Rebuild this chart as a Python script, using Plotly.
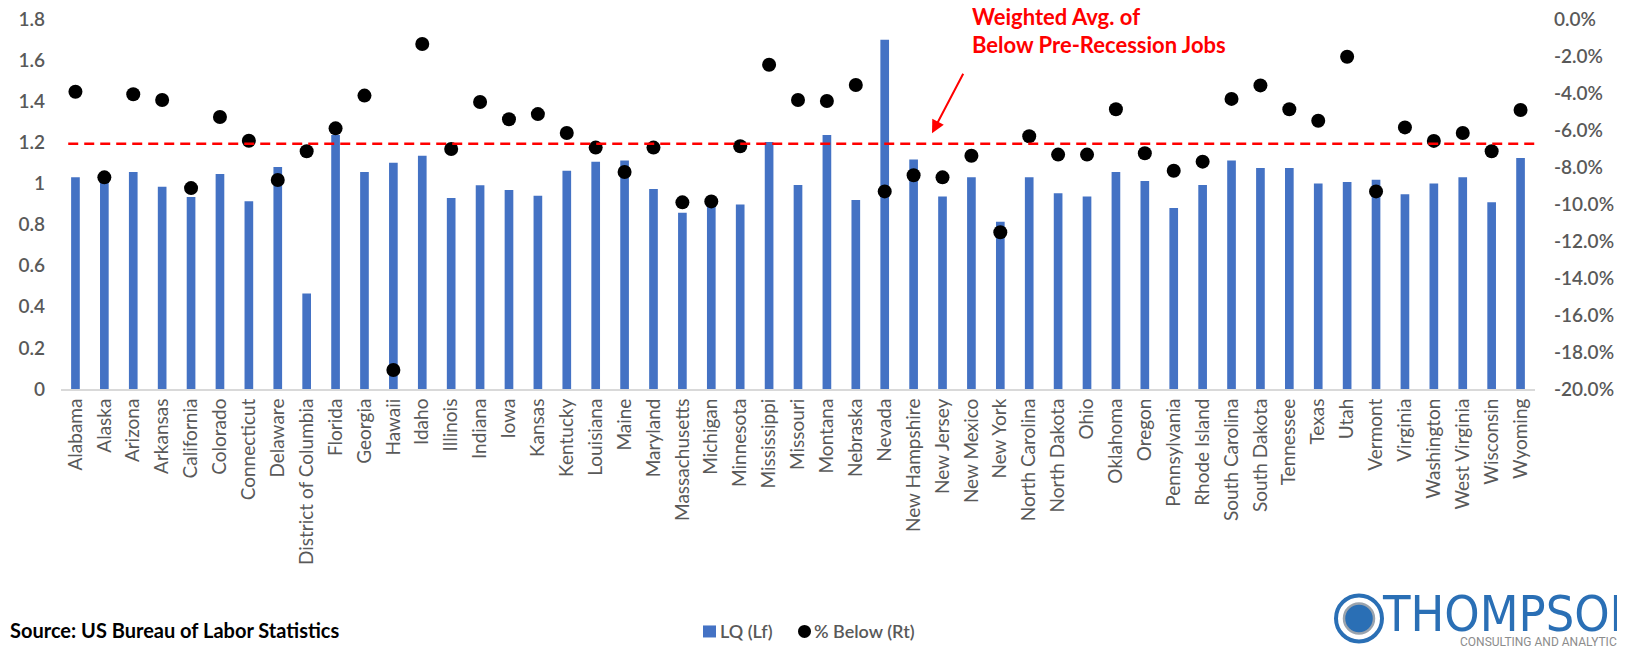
import plotly.graph_objects as go

states = ["Alabama", "Alaska", "Arizona", "Arkansas", "California", "Colorado", "Connecticut",
          "Delaware", "District of Columbia", "Florida", "Georgia", "Hawaii", "Idaho", "Illinois",
          "Indiana", "Iowa", "Kansas", "Kentucky", "Louisiana", "Maine", "Maryland", "Massachusetts",
          "Michigan", "Minnesota", "Mississippi", "Missouri", "Montana", "Nebraska", "Nevada",
          "New Hampshire", "New Jersey", "New Mexico", "New York", "North Carolina", "North Dakota",
          "Ohio", "Oklahoma", "Oregon", "Pennsylvania", "Rhode Island", "South Carolina",
          "South Dakota", "Tennessee", "Texas", "Utah", "Vermont", "Virginia", "Washington",
          "West Virginia", "Wisconsin", "Wyoming"]

lq = [1.03, 1.02, 1.056, 0.984, 0.934, 1.046, 0.913, 1.08, 0.464, 1.236, 1.056, 1.101, 1.135, 0.929,
      0.991, 0.968, 0.94, 1.062, 1.106, 1.112, 0.973, 0.858, 0.91, 0.897, 1.202, 0.992, 1.236,
      0.919, 1.699, 1.117, 0.936, 1.03, 0.814, 1.03, 0.952, 0.936, 1.056, 1.012, 0.88, 0.992,
      1.112, 1.075, 1.075, 1.0, 1.007, 1.018, 0.947, 1.0, 1.03, 0.908, 1.124]

pct_below = [-3.93, -8.56, -4.07, -4.38, -9.14, -5.30, -6.58, -8.70, -7.15, -5.91, -4.14, -18.97,
             -1.35, -7.03, -4.49, -5.42, -5.14, -6.16, -6.95, -8.27, -6.95, -9.91, -9.86, -6.88,
             -2.47, -4.38, -4.43, -3.57, -9.32, -8.45, -8.56, -7.39, -11.53, -6.34, -7.33, -7.33,
             -4.88, -7.26, -8.20, -7.71, -4.32, -3.59, -4.88, -5.50, -2.04, -9.32, -5.86, -6.59,
             -6.16, -7.15, -4.92]

weighted_avg = -6.74  # % below pre-recession jobs (right axis)

left_ticks = [0, 0.2, 0.4, 0.6, 0.8, 1.0, 1.2, 1.4, 1.6, 1.8]
left_labels = ["0", "0.2", "0.4", "0.6", "0.8", "1", "1.2", "1.4", "1.6", "1.8"]
right_ticks = [0, -2, -4, -6, -8, -10, -12, -14, -16, -18, -20]
right_labels = ["0.0%", "-2.0%", "-4.0%", "-6.0%", "-8.0%", "-10.0%", "-12.0%", "-14.0%",
                "-16.0%", "-18.0%", "-20.0%"]

FONT = "Lato, 'Open Sans', sans-serif"
GRAY = "#595959"
BLUE = "#4472c4"

# page geometry (the page body has an 8px margin)
OFF = 8
W, H = 1625 - OFF, 650 - OFF
PL, PR, PT, PB = 61, 1535, 18.7, 388.6  # plot area on the page
L, R, T, B = PL - OFF, W - (PR - OFF), PT - OFF, H - (PB - OFF)


def px(x):
    return (x - PL) / (PR - PL)


def py(y):
    return (PB - y) / (PB - PT)


fig = go.Figure()
fig.add_trace(go.Bar(x=states, y=lq, name="LQ (Lf)", marker=dict(color=BLUE, line_width=0),
                     width=0.3, yaxis="y"))
fig.add_trace(go.Scatter(x=states, y=pct_below, name="% Below (Rt)", mode="markers",
                         marker=dict(color="black", size=14), yaxis="y2"))

fig.add_shape(type="line", xref="x", yref="y2", x0=-0.25, x1=50.5, y0=weighted_avg, y1=weighted_avg,
              line=dict(color="#ff0000", width=2.5, dash="10px,6px"))

# annotation text and arrow
fig.add_annotation(xref="paper", yref="paper", x=px(970), y=py(16.5), xanchor="left", yanchor="middle",
                   text="<b>Weighted Avg. of</b>", showarrow=False,
                   font=dict(family=FONT, size=22, color="#ff0000"))
fig.add_annotation(xref="paper", yref="paper", x=px(970), y=py(44), xanchor="left", yanchor="middle",
                   text="<b>Below Pre-Recession Jobs</b>", showarrow=False,
                   font=dict(family=FONT, size=22, color="#ff0000"))
fig.add_annotation(xref="paper", yref="paper", x=px(932), y=py(133), text="", showarrow=True,
                   ax=32, ay=-61, arrowcolor="#ff0000", arrowwidth=2, arrowhead=2, arrowsize=1.3)

# source
fig.add_annotation(xref="paper", yref="paper", x=px(OFF), y=py(630), xanchor="left", yanchor="middle",
                   text="<b>Source: US Bureau of Labor Statistics</b>", showarrow=False,
                   font=dict(family=FONT, size=20, color="black"))

# legend (drawn as symbols + text)
fig.add_shape(type="rect", xref="paper", yref="paper", x0=px(703), x1=px(716), y0=py(637), y1=py(625),
              line_width=0, fillcolor=BLUE)
fig.add_annotation(xref="paper", yref="paper", x=px(718), y=py(631), xanchor="left", yanchor="middle",
                   text="LQ (Lf)", showarrow=False, font=dict(family=FONT, size=18, color=GRAY, weight=600))
fig.add_shape(type="circle", xref="paper", yref="paper", x0=px(798), x1=px(811), y0=py(637.5), y1=py(624.5),
              line_width=0, fillcolor="black")
fig.add_annotation(xref="paper", yref="paper", x=px(812), y=py(631), xanchor="left", yanchor="middle",
                   text="% Below (Rt)", showarrow=False, font=dict(family=FONT, size=18, color=GRAY, weight=600))

# logo
fig.add_shape(type="circle", xref="paper", yref="paper", x0=px(1336), x1=px(1382), y0=py(641), y1=py(595),
              line=dict(color="#2a6fb5", width=4), fillcolor="white")
fig.add_shape(type="circle", xref="paper", yref="paper", x0=px(1344), x1=px(1374), y0=py(633), y1=py(603),
              line=dict(color="#9aa3ad", width=2.5), fillcolor="#2a6fb5")
fig.add_annotation(xref="paper", yref="paper", x=px(1380), y=py(614), xanchor="left", yanchor="middle",
                   text="THOMPSON", showarrow=False,
                   font=dict(family="'Liberation Sans Narrow', 'DejaVu Sans Condensed', Roboto, sans-serif",
                             size=50, color="#2a6fb5"))
fig.add_annotation(xref="paper", yref="paper", x=px(1458), y=py(642), xanchor="left", yanchor="middle",
                   text="CONSULTING AND ANALYTICS", showarrow=False,
                   font=dict(family="Roboto, sans-serif", size=12, color="#8c8c8c"))

fig.update_layout(
    width=W, height=H,
    margin=dict(l=L, r=R, t=T, b=B, autoexpand=False),
    plot_bgcolor="white", paper_bgcolor="white",
    font=dict(family=FONT, color=GRAY),
    showlegend=False,
    xaxis=dict(type="category", showgrid=False, showline=True, linecolor="#d9d9d9", linewidth=2,
               tickangle=-90, tickfont=dict(family=FONT, size=19, color=GRAY), ticks="",
               automargin=False, range=[-0.5, 50.5], ticklabelstandoff=0),
    yaxis=dict(range=[0, 1.8], tickvals=left_ticks, ticktext=left_labels, showgrid=False,
               zeroline=False, showline=False,
               tickfont=dict(family=FONT, size=19, color=GRAY, weight=600),
               automargin=False, ticklabelstandoff=15, ticklabeloverflow="allow"),
    yaxis2=dict(range=[-20, 0], tickvals=right_ticks, ticktext=right_labels, overlaying="y",
                side="right", showgrid=False, zeroline=False, showline=False,
                tickfont=dict(family=FONT, size=19, color=GRAY, weight=600), automargin=False,
                ticklabelstandoff=18, ticklabeloverflow="allow"),
)

fig.write_html("out.html")
